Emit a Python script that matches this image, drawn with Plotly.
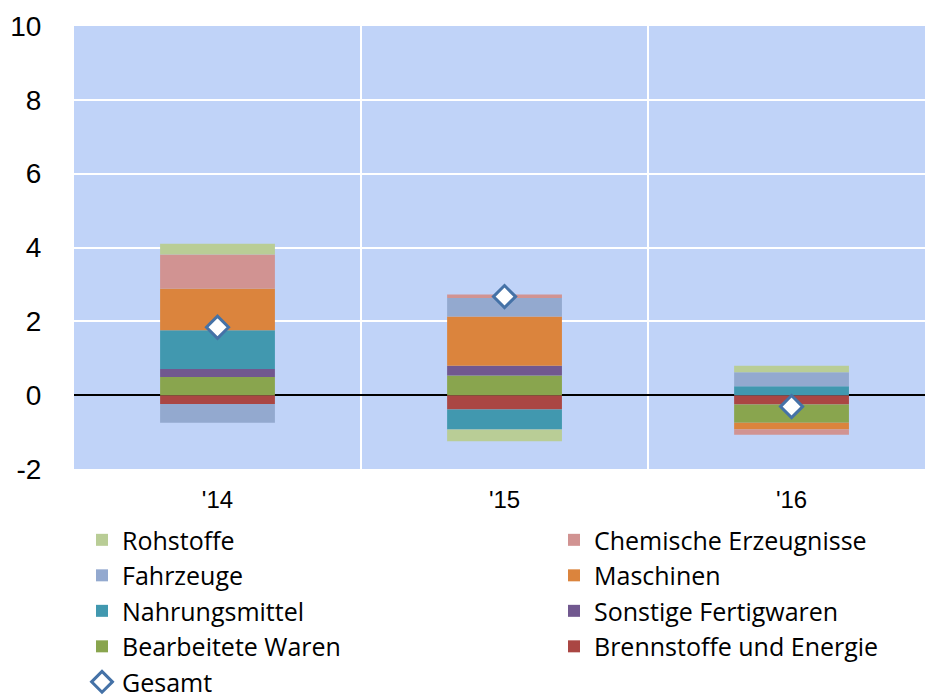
import plotly.graph_objects as go

years = ["'14", "'15", "'16"]
x_pos = [0, 1, 2]
y_ticks = [-2, 0, 2, 4, 6, 8, 10]
y_tick_labels = ["-2", "0", "2", "4", "6", "8", "10"]

# Series (stack order from the axis outward)
brennstoffe = [-0.24, -0.39, -0.25]
bearbeitete = [0.49, 0.53, -0.50]
sonstige = [0.22, 0.27, 0.0]
nahrung = [1.05, -0.54, 0.24]
maschinen = [1.13, 1.33, -0.18]
fahrzeuge = [-0.51, 0.50, 0.38]
chemische = [0.92, 0.10, -0.14]
rohstoffe = [0.29, -0.32, 0.18]
gesamt = [1.84, 2.67, -0.31]

# name, values, colour, legend column, rank within column
series = [
    ("Brennstoffe und Energie", brennstoffe, "#AA4643", "legend2", 4),
    ("Bearbeitete Waren", bearbeitete, "#89A54E", "legend", 4),
    ("Sonstige Fertigwaren", sonstige, "#71588F", "legend2", 3),
    ("Nahrungsmittel", nahrung, "#4198AF", "legend", 3),
    ("Maschinen", maschinen, "#DB843D", "legend2", 2),
    ("Fahrzeuge", fahrzeuge, "#93A9CF", "legend", 2),
    ("Chemische Erzeugnisse", chemische, "#D19392", "legend2", 1),
    ("Rohstoffe", rohstoffe, "#B9CD96", "legend", 1),
]

fig = go.Figure()
for name, vals, color, leg, rank in series:
    fig.add_trace(go.Bar(
        x=x_pos, y=vals, name=name, width=0.4,
        marker=dict(color=color, line=dict(width=0)),
        legend=leg, legendrank=rank,
    ))

fig.add_trace(go.Scatter(
    x=x_pos, y=gesamt, name="Gesamt", mode="markers",
    marker=dict(symbol="diamond", size=17, color="white",
                line=dict(color="#4572A7", width=3)),
    legend="legend", legendrank=5,
))

leg_font = dict(family="Open Sans", size=25, color="black")
fig.update_layout(
    width=925, height=695,
    barmode="relative",
    plot_bgcolor="#C0D3F8",
    paper_bgcolor="white",
    margin=dict(l=74, r=0, t=26, b=226, autoexpand=False),
    font=dict(family="Liberation Sans", color="black"),
    showlegend=True,
    legend=dict(
        orientation="v", xref="container", yref="container",
        x=82 / 925, y=0.256, xanchor="left", yanchor="top",
        font=leg_font, traceorder="normal", bgcolor="rgba(0,0,0,0)",
    ),
    legend2=dict(
        orientation="v", xref="container", yref="container",
        x=554 / 925, y=0.256, xanchor="left", yanchor="top",
        font=leg_font, traceorder="normal", bgcolor="rgba(0,0,0,0)",
    ),
    xaxis=dict(
        range=[-0.5, 2.465], tickvals=x_pos, ticktext=years,
        showgrid=False, zeroline=False, showline=False, automargin=False,
        tickfont=dict(size=24), ticks="outside", ticklen=9, tickcolor="rgba(0,0,0,0)",
        minor=dict(tick0=0.5, dtick=1, showgrid=True, gridcolor="white", gridwidth=2),
    ),
    yaxis=dict(
        range=[-2, 10], tickvals=y_ticks, ticktext=y_tick_labels,
        showgrid=True, gridcolor="white", gridwidth=2, automargin=False,
        zeroline=True, zerolinecolor="black", zerolinewidth=1.5,
        tickfont=dict(size=28), ticks="outside", ticklen=26, tickcolor="rgba(0,0,0,0)",
    ),
)

fig.write_html("out.html", config={"displayModeBar": False},
               post_script="document.body.style.margin='0';")
